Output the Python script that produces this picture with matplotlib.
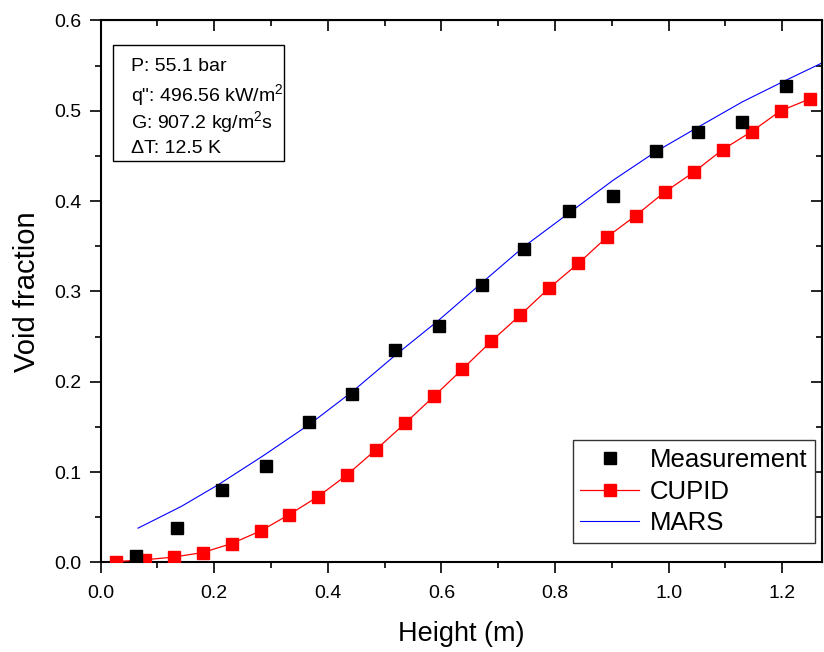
import matplotlib
matplotlib.use("Agg")
import matplotlib.pyplot as plt
from matplotlib.patches import Rectangle
from matplotlib.ticker import MultipleLocator

plt.rcParams['font.family'] = ['Liberation Sans', 'DejaVu Sans']
plt.rcParams['mathtext.fontset'] = 'custom'
plt.rcParams['mathtext.rm'] = 'Liberation Sans'
plt.rcParams['mathtext.it'] = 'Liberation Sans'

# measured void fraction
meas_x = [0.062, 0.134, 0.214, 0.291, 0.367, 0.443, 0.519, 0.595,
          0.672, 0.746, 0.825, 0.902, 0.978, 1.052, 1.130, 1.207]
meas_y = [0.007, 0.038, 0.080, 0.107, 0.155, 0.187, 0.235, 0.262,
          0.307, 0.347, 0.389, 0.406, 0.455, 0.477, 0.488, 0.527]

# CUPID prediction
cupid_x = [0.027, 0.078, 0.129, 0.180, 0.231, 0.282, 0.332, 0.383, 0.434,
           0.485, 0.536, 0.587, 0.637, 0.688, 0.739, 0.790, 0.841, 0.891,
           0.942, 0.993, 1.044, 1.095, 1.146, 1.197, 1.248]
cupid_y = [0.001, 0.003, 0.006, 0.011, 0.021, 0.035, 0.053, 0.073, 0.097,
           0.125, 0.154, 0.184, 0.214, 0.245, 0.274, 0.304, 0.331, 0.360,
           0.384, 0.410, 0.432, 0.457, 0.477, 0.500, 0.513]

# MARS prediction
mars_x = [0.066, 0.142, 0.207, 0.286, 0.368, 0.443, 0.520, 0.595, 0.672,
          0.746, 0.825, 0.902, 0.978, 1.052, 1.130, 1.207, 1.270]
mars_y = [0.038, 0.062, 0.086, 0.118, 0.153, 0.189, 0.230, 0.268, 0.310,
          0.350, 0.387, 0.423, 0.455, 0.482, 0.510, 0.534, 0.553]

cond_lines = ['P: 55.1 bar',
              'q": 496.56 kW/m$^2$',
              'G: 907.2 kg/m$^2$s',
              '\u0394T: 12.5 K']

fig = plt.figure(figsize=(8.24, 6.52), dpi=100)
ax = fig.add_axes([0.122, 0.1373, 0.8756, 0.8313])

ax.plot(meas_x, meas_y, 's', color='black', ms=8.5, label='Measurement', zorder=4)
ax.plot(cupid_x, cupid_y, '-s', color='red', lw=0.9, ms=8.5, label='CUPID', zorder=3)
ax.plot(mars_x, mars_y, '-', color='blue', lw=0.8, label='MARS', zorder=2)

ax.set_xlim(0, 1.27)
ax.set_ylim(0, 0.6)
ax.xaxis.set_major_locator(MultipleLocator(0.2))
ax.xaxis.set_minor_locator(MultipleLocator(0.1))
ax.yaxis.set_major_locator(MultipleLocator(0.1))
ax.yaxis.set_minor_locator(MultipleLocator(0.05))
ax.xaxis.set_major_formatter(lambda v, p: f"{v:.1f}")
ax.yaxis.set_major_formatter(lambda v, p: f"{v:.1f}")

for s in ax.spines.values():
    s.set_linewidth(1.5)
ax.tick_params(which='both', direction='out', width=1.2, labelsize=14)
ax.tick_params(which='major', length=8, pad=6)
ax.tick_params(axis='x', which='major', pad=8)
ax.tick_params(which='minor', length=4)

top = ax.secondary_xaxis('top')
top.xaxis.set_major_locator(MultipleLocator(0.2))
top.xaxis.set_minor_locator(MultipleLocator(0.1))
top.tick_params(which='both', direction='in', width=1.2, labeltop=False)
top.tick_params(which='major', length=8)
top.tick_params(which='minor', length=4)
right = ax.secondary_yaxis('right')
right.yaxis.set_major_locator(MultipleLocator(0.1))
right.yaxis.set_minor_locator(MultipleLocator(0.05))
right.tick_params(which='both', direction='in', width=1.2, labelright=False)
right.tick_params(which='major', length=8)
right.tick_params(which='minor', length=4)

ax.set_xlabel('Height (m)', fontsize=19.5, labelpad=14)
ax.set_ylabel('Void fraction', fontsize=21, labelpad=9)

leg = ax.legend(loc='lower right', bbox_to_anchor=(0.99, 0.036), borderaxespad=0,
                fontsize=18.5, fancybox=False, framealpha=1, edgecolor='#333333',
                handlelength=2.3, handletextpad=0.4, labelspacing=0.3,
                borderpad=0.3)
leg.get_frame().set_linewidth(1.0)

ax.add_patch(Rectangle((0.017, 0.740), 0.237, 0.2146, transform=ax.transAxes,
                       fill=False, edgecolor='black', lw=1.0, zorder=5))
for txt, yy in zip(cond_lines, [0.915, 0.862, 0.812, 0.764]):
    ax.text(0.042, yy, txt, transform=ax.transAxes, fontsize=14,
            va='center', ha='left', zorder=6)

fig.savefig('out.png', dpi=100)
